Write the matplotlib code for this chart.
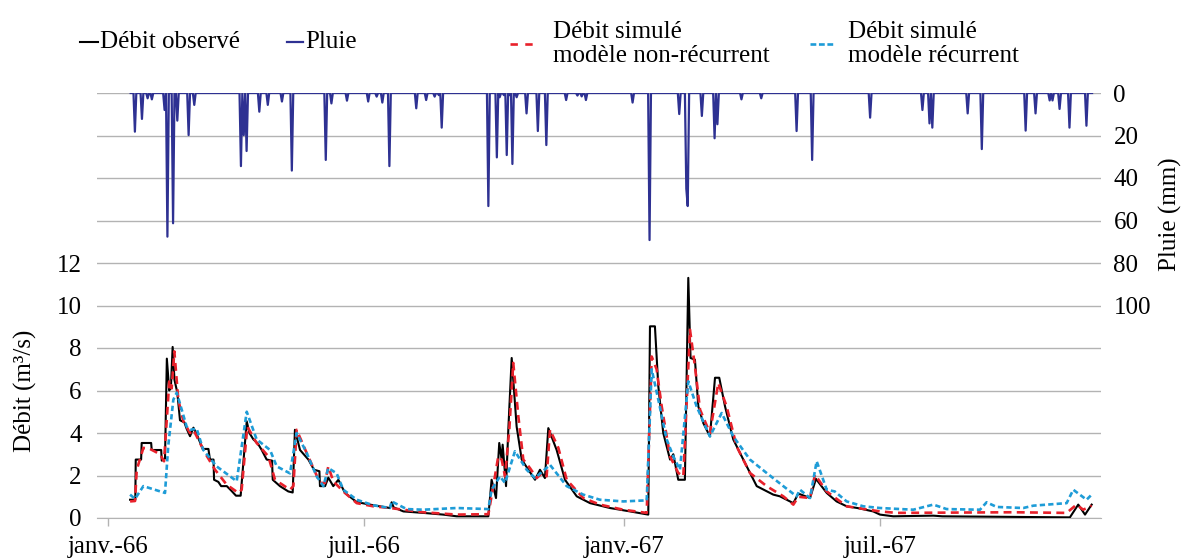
import matplotlib
matplotlib.use('Agg')
import matplotlib.pyplot as plt
from matplotlib.lines import Line2D
import numpy as np

# ---------------- data (days since 1966-01-01) ----------------
tick_days = [0, 181, 365, 546]
tick_labels = ['janv.-66', 'juil.-66', 'janv.-67', 'juil.-67']

rain_start, rain_end = 16, 696
rain_days = [19, 24, 28, 31, 40, 42, 46, 49, 57, 61, 94, 96, 98, 107, 113, 123, 130,
             154, 158, 169, 184, 190, 194, 199, 218, 225, 231, 234, 236,
             269, 275, 277, 280, 282, 284, 286, 289, 296, 304, 310, 324, 332, 335, 338,
             371, 383, 404, 409, 410, 420, 429, 431, 448, 462, 487, 498,
             539, 576, 581, 583, 608, 618, 649, 656, 666, 668, 673, 680, 692]
rain_mm = [18.2, 12.2, 2.5, 3.0, 8.0, 67.6, 61.3, 13.0, 19.8, 5.6, 34.4, 19.8, 27.3, 8.8, 5.6, 4.0, 36.5,
           31.5, 4.9, 3.6, 4.0, 1.7, 4.5, 34.4, 7.2, 3.3, 1.7, 1.0, 16.3,
           53.2, 30.3, 2.0, 1.0, 29.2, 1.0, 33.4, 2.0, 9.6, 17.9, 24.5, 3.3, 1.2, 1.6, 3.3,
           4.5, 69.2, 9.9, 45.0, 53.2, 10.8, 21.3, 14.7, 3.0, 2.5, 17.9, 31.5,
           11.6, 8.0, 14.3, 16.3, 9.6, 26.4, 17.7, 9.6, 3.5, 3.5, 7.5, 16.3, 15.4]

obs_days = [15.6, 19.3, 19.6, 23.4, 23.8, 30.5, 30.9, 37.6, 38.0, 40.3, 41.6, 43.3, 44.5, 45.7,
            47.0, 49.0, 50.9, 54.0, 55.6, 58.0, 60.4, 63.0, 67.0, 71.0, 72.1, 74.6, 75.0, 78.0,
            80.0, 84.0, 87.0, 90.5, 93.8, 98.1, 100.0, 102.8, 106.0, 108.7, 112.2, 116.0, 116.5,
            121.6, 127.5, 130.6, 132.2, 135.8, 141.7, 145.7, 149.5, 149.9, 153.5, 155.8, 159.3,
            162.9, 167.6, 175.9, 187.6, 199.4, 200.6, 202.0, 208.9, 223.0, 237.1, 246.6, 269.0,
            271.3, 274.4, 276.7, 278.4, 279.1, 281.5, 283.1, 285.5, 289.0, 292.6, 297.3, 302.0,
            305.5, 309.0, 311.4, 317.3, 323.2, 331.5, 340.9, 355.0, 369.2, 382.1, 383.3, 386.8,
            389.2, 392.7, 397.5, 399.8, 403.3, 408.0, 410.4, 412.0, 415.1, 417.5, 421.0, 425.7,
            429.3, 432.3, 436.4, 442.2, 449.3, 458.8, 470.5, 475.2, 484.7, 488.2, 496.5, 500.7,
            508.3, 515.3, 522.4, 530.0, 541.2, 546.0, 555.4, 583.7, 590.0, 680.3, 686.2, 691.0,
            695.7]
obs_q = [0.86, 0.86, 2.75, 2.75, 3.53, 3.53, 3.2, 3.2, 2.7, 2.8, 7.5, 6.0, 6.2, 8.05,
         6.5, 5.9, 4.6, 4.5, 4.2, 3.85, 4.25, 3.9, 3.25, 3.25, 2.75, 2.75, 1.8, 1.7,
         1.5, 1.5, 1.3, 1.05, 1.05, 4.55, 4.0, 3.7, 3.5, 3.2, 2.75, 2.7, 1.8,
         1.5, 1.25, 1.2, 4.15, 3.2, 2.75, 2.27, 2.2, 1.5, 1.5, 1.9, 1.5,
         1.8, 1.18, 0.75, 0.6, 0.47, 0.74, 0.5, 0.31, 0.24, 0.16, 0.08, 0.08,
         1.8, 0.94, 3.53, 2.75, 3.45, 1.5, 4.15, 7.53, 4.3, 2.75, 2.27, 1.8,
         2.27, 1.88, 4.23, 3.2, 1.8, 1.02, 0.7, 0.47, 0.31, 0.16, 9.02, 9.02,
         6.2, 4.0, 2.75, 3.0, 1.8, 1.8, 11.3, 7.53, 7.45, 5.25, 4.47, 3.84,
         6.6, 6.6, 5.25, 3.7, 2.75, 1.5, 1.1, 1.02, 0.7, 1.15, 0.94, 1.84,
         1.18, 0.78, 0.55, 0.47, 0.31, 0.16, 0.08, 0.11, 0.08, 0.03, 0.63, 0.16,
         0.63]

nrec_days = [15.6, 19.1, 20.3, 25.0, 29.7, 36.8, 39.6, 43.4, 45.0, 46.9, 49.7, 53.3, 58.0,
             60.4, 68.6, 75.7, 83.9, 92.2, 94.5, 98.5, 105.1, 113.4, 118.1, 128.7, 131.1,
             133.4, 140.5, 149.9, 153.5, 155.8, 159.3, 166.4, 175.9, 187.6, 199.4, 208.9,
             223.0, 246.6, 269.0, 272.5, 276.0, 278.4, 280.8, 283.8, 286.6, 290.2, 293.7,
             298.4, 303.2, 306.7, 310.2, 312.6, 318.5, 324.4, 336.1, 347.9, 364.4, 381.0,
             384.5, 388.0, 391.6, 397.5, 403.3, 406.9, 411.6, 415.1, 418.7, 425.7, 431.6,
             437.5, 444.6, 454.0, 465.8, 477.6, 484.7, 488.2, 496.5, 500.0, 508.3, 522.4,
             546.0, 557.8, 640.3, 678.0, 685.0, 689.7, 695.7]
nrec_q = [0.78, 0.8, 2.27, 3.3, 3.25, 3.0, 2.67, 6.5, 6.1, 7.84, 5.57, 4.55, 4.0,
          4.15, 3.06, 2.27, 1.57, 1.18, 1.33, 4.3, 3.53, 2.9, 1.8, 1.33, 1.5,
          4.15, 3.06, 1.65, 1.65, 2.43, 1.73, 1.25, 0.7, 0.55, 0.47, 0.39,
          0.27, 0.16, 0.18, 1.5, 2.9, 2.75, 1.96, 4.15, 7.3, 4.78, 2.75,
          2.35, 1.88, 2.1, 1.96, 4.15, 3.3, 1.8, 0.94, 0.63, 0.39, 0.24,
          7.6, 7.0, 5.25, 2.9, 2.12, 1.96, 8.86, 7.14, 5.1, 4.0, 6.35,
          5.25, 3.37, 2.12, 1.5, 1.02, 0.63, 1.0, 0.94, 2.04, 1.25, 0.55,
          0.31, 0.24, 0.27, 0.24, 0.63, 0.39, 0.58]

rec_days = [15.6, 19.1, 25.0, 40.3, 42.6, 46.2, 48.6, 55.6, 58.0, 62.7, 67.4, 76.8, 91.0,
            98.1, 105.1, 114.6, 119.3, 128.7, 133.4, 140.5, 147.6, 152.3, 155.8, 161.7,
            166.4, 175.9, 187.6, 199.4, 200.6, 211.2, 223.0, 246.6, 269.0, 271.3, 277.2,
            280.8, 287.8, 296.1, 302.0, 312.6, 324.4, 336.1, 347.9, 364.4, 381.0, 384.5,
            389.2, 395.1, 399.8, 404.5, 410.4, 416.3, 425.7, 434.0, 442.2, 454.0, 465.8,
            477.6, 487.0, 489.4, 496.5, 501.2, 508.3, 514.0, 522.4, 534.2, 546.0, 569.5,
            583.7, 593.1, 616.7, 621.4, 628.5, 647.3, 654.4, 678.0, 682.7, 692.1, 695.7]
rec_q = [1.1, 0.9, 1.5, 1.18, 3.4, 5.57, 5.9, 4.3, 4.15, 4.2, 3.2, 2.43, 1.73,
         5.0, 3.7, 3.2, 2.43, 2.1, 4.0, 3.06, 1.96, 1.5, 2.35, 2.1,
         1.33, 0.86, 0.6, 0.47, 0.78, 0.42, 0.39, 0.47, 0.42, 1.33, 1.96,
         1.65, 3.14, 2.27, 1.88, 2.5, 1.5, 1.1, 0.86, 0.78, 0.83, 7.0,
         5.57, 3.7, 2.9, 2.27, 6.43, 5.25, 3.84, 4.94, 3.84, 2.75, 2.12,
         1.5, 1.02, 1.33, 0.94, 2.67, 1.33, 1.25, 0.78, 0.55, 0.47, 0.39,
         0.63, 0.42, 0.39, 0.74, 0.52, 0.47, 0.58, 0.7, 1.33, 0.86, 1.1]

labels = ['Débit observé', 'Pluie', 'Débit simulé\nmodèle non-récurrent',
          'Débit simulé\nmodèle récurrent']

# ---------------- styling ----------------
FONT = 'Liberation Serif'
plt.rcParams['font.family'] = [FONT, 'DejaVu Serif']
FS = 18
C_OBS = '#000000'
C_RAIN = '#2E3192'
C_NREC = '#E8212B'
C_REC = '#1E9CD7'
C_GRID = '#B3B3B3'

W, H = 1185, 558
fig = plt.figure(figsize=(W / 100, H / 100), dpi=100)
L, R, B, T = 97, 1101, 518, 93
ax = fig.add_axes([L / W, 1 - B / H, (R - L) / W, (B - T) / H])
ax2 = ax.twinx()

# rain daily series (zero except spike days)
rdays = np.arange(rain_start, rain_end + 1)
rvals = np.zeros(len(rdays))
for d, v in zip(rain_days, rain_mm):
    rvals[d - rain_start] = v

l_obs, = ax.plot(obs_days, obs_q, color=C_OBS, lw=1.5, zorder=3)
l_nrec, = ax.plot(nrec_days, nrec_q, color=C_NREC, lw=1.9, dashes=(3.0, 2.0), zorder=4)
l_rec, = ax.plot(rec_days, rec_q, color=C_REC, lw=1.9, dashes=(2.0, 1.2), zorder=5)
l_rain, = ax2.plot(rdays, rvals, color=C_RAIN, lw=1.6, zorder=3)

ax.set_xlim(-7.8, 702.3)
ax.set_ylim(0, 20)
ax2.set_ylim(200, 0)

ax.set_yticks(np.arange(0, 21, 2))
ax.set_yticklabels([str(v) if v <= 12 else '' for v in range(0, 21, 2)])
ax.grid(axis='y', color=C_GRID, lw=1.0)
ax.set_axisbelow(True)
ax.tick_params(axis='y', length=0, pad=11, labelsize=FS)

ax2.set_yticks(np.arange(0, 101, 20))
ax2.tick_params(axis='y', length=0, pad=9, labelsize=FS)

ax.set_xticks(tick_days)
ax.set_xticklabels(tick_labels)
ax.tick_params(axis='x', length=6, width=1, color=C_GRID, pad=7, labelsize=FS)

for a in (ax, ax2):
    for s in ('top', 'left', 'right', 'bottom'):
        a.spines[s].set_visible(False)
ax.spines['bottom'].set_visible(True)
ax.spines['bottom'].set_color(C_GRID)

ax.set_ylabel('Débit (m³/s)', fontsize=FS)
ax.yaxis.set_label_coords(-0.060, 0.30)
ax2.set_ylabel('Pluie (mm)', fontsize=FS, rotation=90)
ax2.yaxis.set_label_coords(1.058, 0.715)

# ---------------- legend (manual placement) ----------------
def fx(x):
    return x / W

def fy(y):
    return 1 - y / H

entries = [
    (l_obs, 80, 98, 42, 100),
    (l_rain, 287, 303, 42, 305),
    (l_nrec, 510, 534, 44, 553),
    (l_rec, 810, 833, 44, 848),
]
for (h, x0, x1, y, tx), lab in zip(entries, labels):
    ln = Line2D([fx(x0), fx(x1)], [fy(y), fy(y)], transform=fig.transFigure,
                color=h.get_color(), lw=h.get_linewidth())
    if h is l_nrec:
        ln.set_dashes((2.8, 2.8))
    elif h is l_rec:
        ln.set_dashes((2.2, 1.0))
    fig.add_artist(ln)
    fig.text(fx(tx), fy(y), lab, fontsize=FS, ha='left', va='center',
             linespacing=1.15)

fig.savefig('out.png', dpi=100)
